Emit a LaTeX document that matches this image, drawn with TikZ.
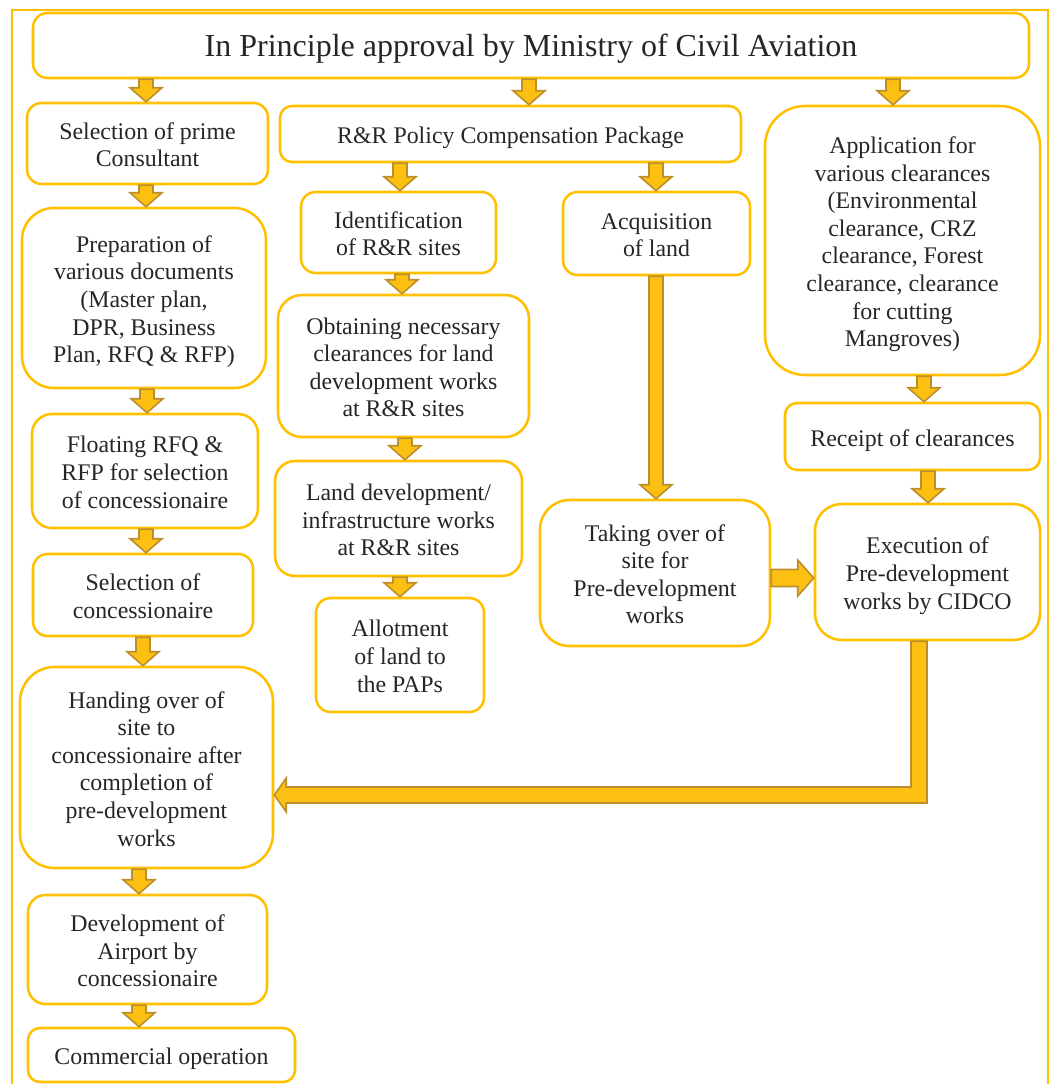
\documentclass[tikz,border=0pt]{standalone}
\usepackage{fontspec}
\setmainfont{LiberationSerif}[Extension=.ttf, UprightFont=*-Regular, BoldFont=*-Bold, ItalicFont=*-Italic, BoldItalicFont=*-BoldItalic]
\usetikzlibrary{calc}
\definecolor{gold}{HTML}{FFC000}
\definecolor{arrfill}{HTML}{FBC012}
\definecolor{arrline}{HTML}{BC8F2C}
\definecolor{txt}{HTML}{262626}
\tikzset{
 box/.style={draw=gold, line width=1.9pt, fill=white, align=center, inner sep=0pt, text=txt, font=\fontsize{17.9}{20.7}\selectfont},
 barrow/.style={fill=arrfill, draw=arrline, line width=1.2pt, line join=miter},
}
\newcommand\lowtext[1]{\raisebox{-3pt}[\height][\depth]{\begin{tabular}{@{}c@{}}#1\end{tabular}}}
% name, x1, y1, x2, y2 (px), corner radius, text
\newcommand\bx[7]{\node[box, rounded corners=#6, minimum width={(#4-#2)*0.75pt}, minimum height={(#5-#3)*0.75pt}] (#1) at ({(#2+#4)/2},{(#3+#5)/2}) {\lowtext{#7}};}
% vertical block arrow: source, target, x (px)
\newcommand\dnarrow[3]{\filldraw[barrow] let \p1=(#1.south), \p2=(#2.north), \p3=(#3,0) in
 (\x3-5.25pt,\y1) -- (\x3+5.25pt,\y1) -- (\x3+5.25pt,\y2+10.5pt) -- (\x3+12pt,\y2+10.5pt) -- (\x3,\y2) -- (\x3-12pt,\y2+10.5pt) -- (\x3-5.25pt,\y2+10.5pt) -- cycle;}
\begin{document}
\begin{tikzpicture}[x=0.75pt,y=-0.75pt]
\useasboundingbox (0,0) rectangle (1053,1084);
\draw[gold, line width=2.2pt] (12,1086) -- (12,10) -- (1048,10) -- (1048,1086);

\node[box, rounded corners=11pt, minimum width={996*0.75pt}, minimum height={65*0.75pt}, font=\fontsize{24}{28}\selectfont] (top) at (531,45.5) {\lowtext{In Principle approval by Ministry of Civil Aviation}};

\bx{sel1}{27}{103}{268}{184}{11pt}{Selection of prime\\Consultant}
\bx{rr}{280}{106}{741}{162}{9pt}{R\&R Policy Compensation Package}
\bx{app}{765}{106}{1040}{375}{30pt}{Application for\\various clearances\\(Environmental\\clearance, CRZ\\clearance, Forest\\clearance, clearance\\for cutting\\Mangroves)}
\bx{prep}{22}{208}{266}{388}{24pt}{Preparation of\\various documents\\(Master plan,\\DPR, Business\\Plan, RFQ \& RFP)}
\bx{ident}{301}{192}{496}{273}{11pt}{Identification\\of R\&R sites}
\bx{acq}{563}{192}{750}{275}{11pt}{Acquisition\\of land}
\bx{obt}{278}{295}{529}{437}{18pt}{Obtaining necessary\\clearances for land\\development works\\at R\&R sites}
\bx{rec}{785}{403}{1040}{470}{9pt}{Receipt of clearances}
\bx{float}{32}{414}{258}{528}{15pt}{Floating RFQ \&\\RFP for selection\\of concessionaire}
\bx{landdev}{275}{461}{522}{576}{15pt}{Land development/\\infrastructure works\\at R\&R sites}
\bx{take}{540}{500}{770}{646}{22pt}{Taking over of\\site for\\Pre-development\\works}
\bx{exec}{815}{504}{1040}{640}{20pt}{Execution of\\Pre-development\\works by CIDCO}
\bx{selc}{33}{554}{253}{636}{11pt}{Selection of\\concessionaire}
\bx{allot}{316}{598}{484}{712}{11pt}{Allotment\\of land to\\the PAPs}
\bx{hand}{20}{667}{273}{868}{26pt}{Handing over of\\site to\\concessionaire after\\completion of\\pre-development\\works}
\bx{dev}{28}{895}{267}{1004}{13pt}{Development of\\Airport by\\concessionaire}
\bx{comm}{28}{1028}{295}{1082}{9pt}{Commercial operation}

\dnarrow{top}{sel1}{146}
\dnarrow{top}{rr}{529}
\dnarrow{top}{app}{893}
\dnarrow{sel1}{prep}{146}
\dnarrow{rr}{ident}{400}
\dnarrow{rr}{acq}{656}
\dnarrow{ident}{obt}{402}
\dnarrow{obt}{landdev}{405}
\dnarrow{landdev}{allot}{400}
\dnarrow{acq}{take}{656}
\dnarrow{app}{rec}{924}
\dnarrow{rec}{exec}{928}
\dnarrow{prep}{float}{147}
\dnarrow{float}{selc}{146}
\dnarrow{selc}{hand}{143}
\dnarrow{hand}{dev}{139}
\dnarrow{dev}{comm}{139}

% Taking over -> Execution
\filldraw[barrow] let \p1=(take.east), \p2=(exec.west), \p3=(0,578) in
 (\x1,\y3+6.4pt) -- (\x2-12pt,\y3+6.4pt) -- (\x2-12pt,\y3+13.5pt) -- (\x2,\y3) -- (\x2-12pt,\y3-13.5pt) -- (\x2-12pt,\y3-6.4pt) -- (\x1,\y3-6.4pt) -- cycle;

% Execution -> Handing over (elbow)
\filldraw[barrow] let \p1=(exec.south), \p2=(hand.east), \p3=(919,0), \p4=(0,795) in
 (\x3-6pt,\y1) -- (\x3+6pt,\y1) -- (\x3+6pt,\y4-6pt) -- (\x2+9pt,\y4-6pt) -- (\x2+9pt,\y4-12.75pt) -- (\x2,\y4) -- (\x2+9pt,\y4+12.75pt) -- (\x2+9pt,\y4+6pt) -- (\x3-6pt,\y4+6pt) -- cycle;
\end{tikzpicture}
\end{document}
